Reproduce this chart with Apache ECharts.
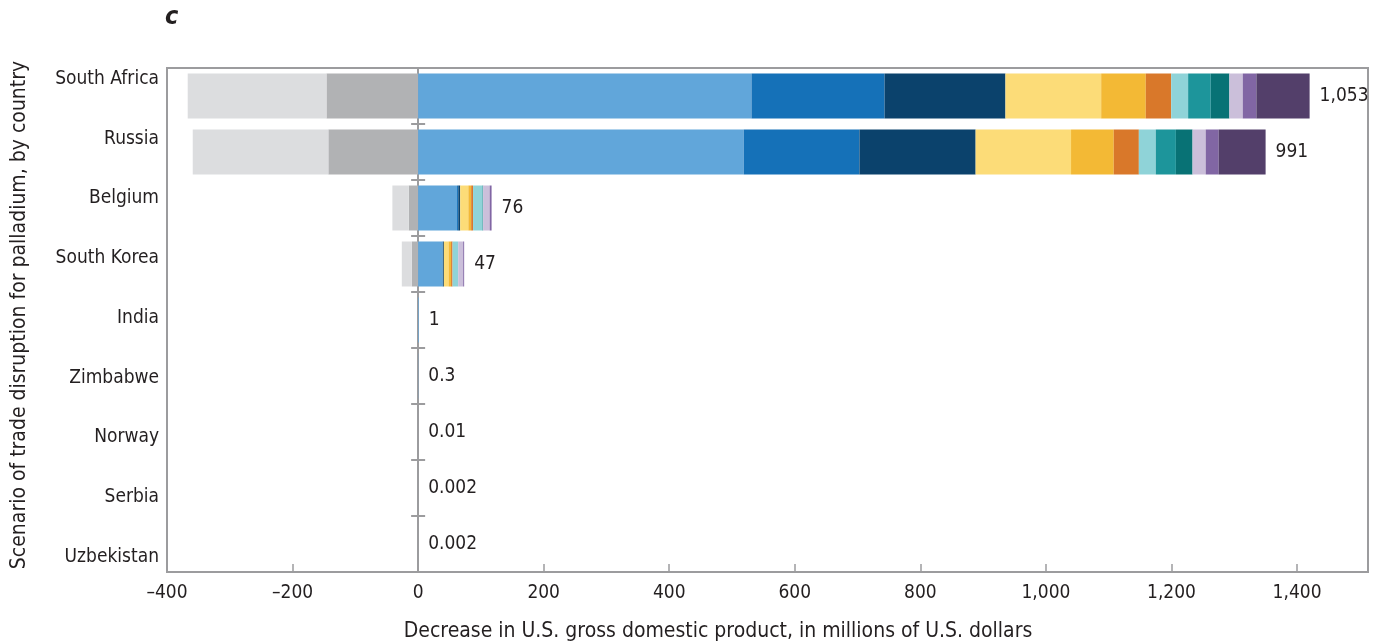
<!DOCTYPE html>
<html>
<head>
<meta charset="utf-8">
<script src="https://cdn.jsdelivr.net/npm/echarts@6/dist/echarts.min.js"></script>
<style>
  html, body { margin: 0; padding: 0; background: #fff; }
  #chart { width: 1379px; height: 644px; }
</style>
</head>
<body>
<div id="chart"></div>
<script>
// Countries, top to bottom
const categories = ['South Africa', 'Russia', 'Belgium', 'South Korea', 'India', 'Zimbabwe', 'Norway', 'Serbia', 'Uzbekistan'];
// Net decrease printed at the end of each bar
const totalLabels = ['1,053', '991', '76', '47', '1', '0.3', '0.01', '0.002', '0.002'];

// Offsetting components (left of zero); inner one first
const negInner = [-146, -143, -15, -10, 0, 0, 0, 0, 0];
const negOuter = [-221, -216, -26, -16, 0, 0, 0, 0, 0];

// Decrease components (right of zero), in stacking order
const pos1 = [531, 518.6, 62, 39, 1, 0.3, 0.01, 0.002, 0.002];
const pos2 = [212, 184.4, 2, 0.5, 0, 0, 0, 0, 0];
const pos3 = [192.5, 185, 3, 1.5, 0, 0, 0, 0, 0];
const pos4 = [152.5, 152, 13, 7.5, 0, 0, 0, 0, 0];
const pos5 = [71, 68, 4.5, 4, 0, 0, 0, 0, 0];
const pos6 = [40.5, 40, 3, 2.3, 0, 0, 0, 0, 0];
const pos7 = [27, 27, 15, 9, 0, 0, 0, 0, 0];
const pos8 = [36, 32, 0.5, 0, 0, 0, 0, 0, 0];
const pos9 = [29.7, 26.5, 0.5, 0, 0, 0, 0, 0, 0];
const pos10 = [21.3, 21, 10.5, 8, 0, 0, 0, 0, 0];
const pos11 = [21.7, 20.7, 3, 1.5, 0, 0, 0, 0, 0];
const pos12 = [84.8, 74.7, 0, 0, 0, 0, 0, 0, 0];

// X axis range and step
const xMin = -400, xMax = 1513, xStep = 200;

const FONT = '"Liberation Sans Narrow", "DejaVu Sans Condensed", "Liberation Sans", sans-serif';
const TEXT = '#231f20';
const AXIS = '#9c9c9e';

const negColors = ['#b1b2b4', '#dcdddf'];
const posColors = ['#61a6da', '#1571b8', '#0b426c', '#fcdc78', '#f3b935', '#d9782a',
                   '#8fd3d8', '#1d959b', '#087275', '#cbbfda', '#8166a4', '#533f6a'];
const posData = [pos1, pos2, pos3, pos4, pos5, pos6, pos7, pos8, pos9, pos10, pos11, pos12];

const barW = 45;
const series = [];
[negInner, negOuter].forEach((d, i) => {
  series.push({ name: 'neg' + (i + 1), type: 'bar', stack: 'total', data: d, barWidth: barW,
    itemStyle: { color: negColors[i] }, silent: true });
});
posData.forEach((d, i) => {
  series.push({ name: 'pos' + (i + 1), type: 'bar', stack: 'total', data: d, barWidth: barW,
    itemStyle: { color: posColors[i] }, silent: true });
});
// zero-length cap carrying the net value label
series.push({
  name: 'net', type: 'bar', stack: 'total', data: categories.map(() => 0), barWidth: barW,
  itemStyle: { color: 'transparent' },
  label: { show: true, position: 'right', distance: 10, color: TEXT, fontFamily: FONT, fontSize: 19,
    formatter: p => totalLabels[p.dataIndex] }
});
// short ticks crossing the zero line between country bands
series.push({
  name: 'zeroTicks', type: 'custom', xAxisIndex: 0, yAxisIndex: 0, silent: true, z: 5,
  data: categories.slice(0, -1).map((c, i) => [0, i]),
  renderItem: (params, api) => {
    const p = api.coord([api.value(0), api.value(1)]);
    const band = api.size([0, 1])[1];
    const y = p[1] + band / 2;
    return { type: 'line', shape: { x1: p[0] - 7, y1: y, x2: p[0] + 7, y2: y },
      style: { stroke: AXIS, lineWidth: 2 } };
  }
});

function fmt(v) {
  const s = Math.abs(v).toString().replace(/\B(?=(\d{3})+(?!\d))/g, ',');
  return v < 0 ? '\u2013' + s : s;
}

const chart = echarts.init(document.getElementById('chart'), null, { renderer: 'canvas' });
chart.setOption({
  animation: false,
  backgroundColor: '#fff',
  grid: [
    { left: 167, right: 11, top: 68, bottom: 72, show: true, borderColor: AXIS, borderWidth: 2, containLabel: false },
    // grid used only to place the country names
    { left: 167, right: 11, top: 49, height: 538, show: false, containLabel: false }
  ],
  xAxis: [
    { type: 'value', gridIndex: 0, min: xMin, max: xMax, interval: xStep,
      axisLine: { show: true, onZero: false, lineStyle: { color: AXIS, width: 2 } },
      axisTick: { show: true, inside: true, length: 8, lineStyle: { color: AXIS, width: 1.5 } },
      axisLabel: { color: TEXT, fontFamily: FONT, fontSize: 19, margin: 12, showMaxLabel: false, formatter: fmt },
      splitLine: { show: false } },
    { type: 'value', gridIndex: 1, min: xMin, max: xMax, show: false }
  ],
  yAxis: [
    { type: 'category', gridIndex: 0, data: categories, inverse: true, position: 'left',
      axisLine: { show: true, onZero: true, lineStyle: { color: AXIS, width: 2 } },
      axisTick: { show: false },
      axisLabel: { show: false } },
    { type: 'category', gridIndex: 1, data: categories, inverse: true, position: 'left',
      axisLine: { show: false, onZero: false }, axisTick: { show: false },
      axisLabel: { color: TEXT, fontFamily: FONT, fontSize: 19, margin: 8, align: 'right' } }
  ],
  series: series,
  graphic: [
    { type: 'text', left: 165, top: 5,
      style: { text: 'c', font: 'italic bold 25px ' + FONT, fill: TEXT } },
    { type: 'text', x: 718, y: 632,
      style: { text: 'Decrease in U.S. gross domestic product, in millions of U.S. dollars',
        font: '21px ' + FONT, fill: TEXT, align: 'center', verticalAlign: 'middle' } },
    { type: 'text', x: 20, y: 315, rotation: Math.PI / 2,
      style: { text: 'Scenario of trade disruption for palladium, by country',
        font: '21px ' + FONT, fill: TEXT, align: 'center', verticalAlign: 'middle' } }
  ]
});
</script>
</body>
</html>
